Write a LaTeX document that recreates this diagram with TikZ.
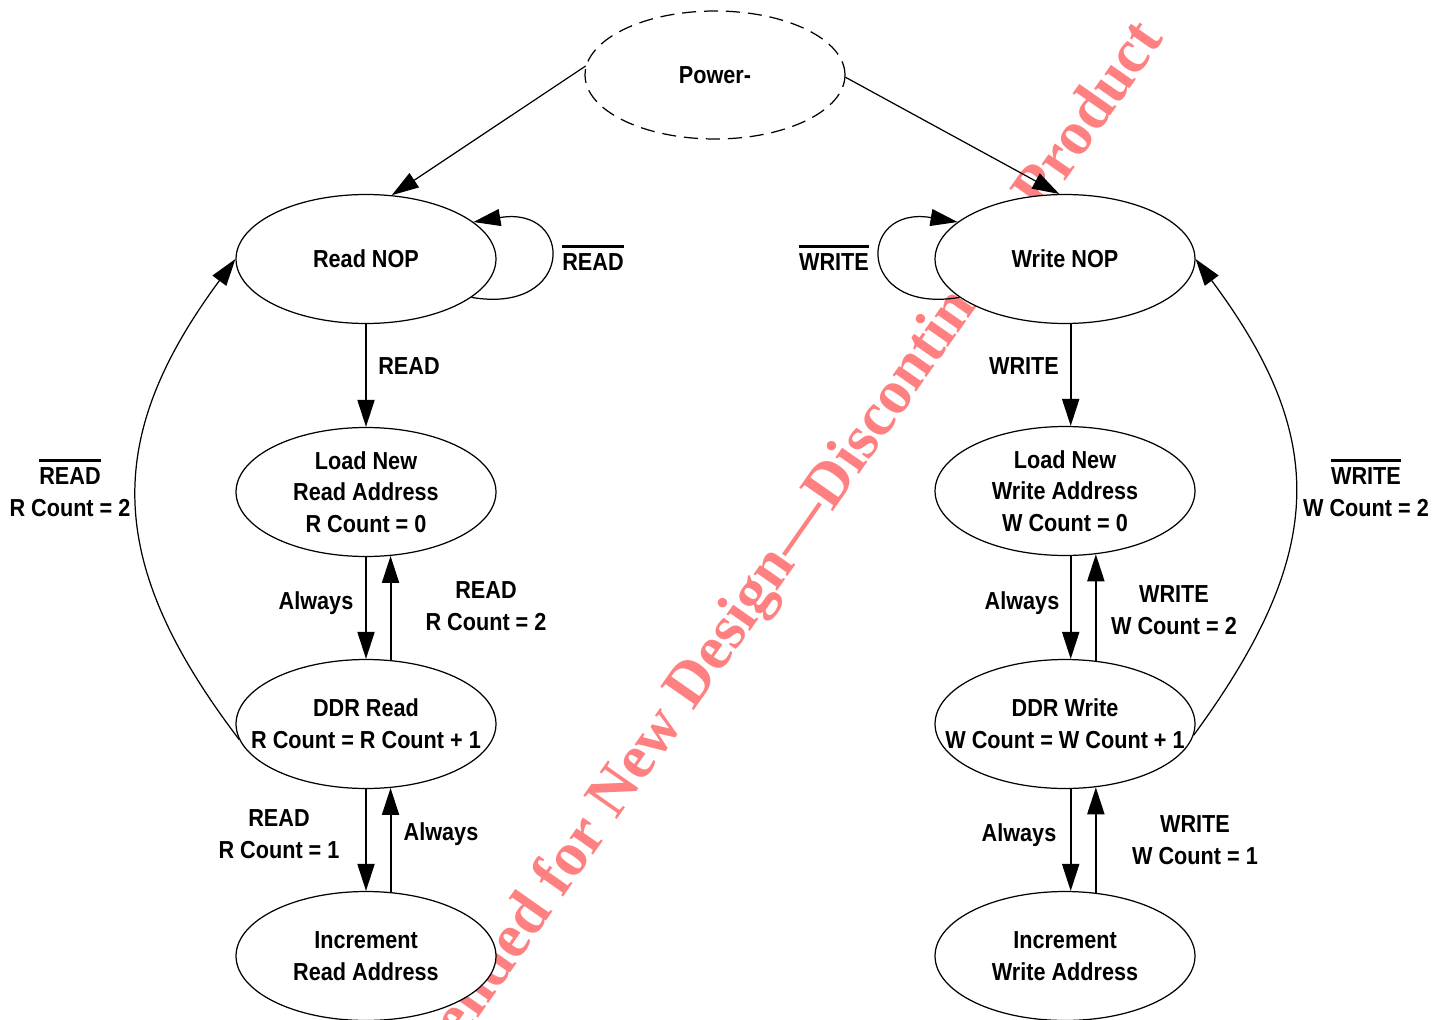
\documentclass[tikz,border=0pt]{standalone}
\usepackage{fontspec}
\setmainfont{Liberation Sans}[FakeStretch=0.88]
\newfontfamily\wmfont{Liberation Serif}
\usetikzlibrary{arrows.meta,shapes.geometric}

\definecolor{wmpink}{RGB}{255,128,128}
\newcommand{\diagfont}{\bfseries\fontsize{14pt}{18pt}\selectfont}
\newsavebox{\sigbox}
\newcommand{\negsig}[1]{\sbox{\sigbox}{#1}\rlap{\raisebox{\dimexpr\ht\sigbox+3.5pt\relax}{\rule{\wd\sigbox}{1.3pt}}}\usebox{\sigbox}}

\begin{document}
\begin{tikzpicture}[x=0.02cm,y=-0.02cm,>={Triangle[length=0.54cm,width=0.34cm]},
fsm/.style={ellipse,draw,fill=white,line width=0.7pt,minimum width=5.2cm,minimum height=2.58cm,inner xsep=-3cm,inner ysep=-1cm,align=center,font=\diagfont},
cond/.style={align=center,inner sep=0pt,font=\diagfont},
trans/.style={->,line width=1.1pt},
arc/.style={->,line width=0.7pt},
wm/.style={font=\wmfont\bfseries\fontsize{35.5pt}{40pt}\selectfont,text=wmpink,rotate=55,anchor=base east,inner sep=0pt}]
\useasboundingbox (0,0) rectangle (1446,1020);
\begin{scope}
\clip (0,0) rectangle (1446,1020);
\node[wm] (wmark) at (1165,38) {Not Recommended for New Design—Discontinued Product};
\end{scope}
% states
\node[fsm,dash pattern=on 8pt off 4.5pt,minimum height=2.56cm] (pwr) at (715,75) {Power-};
\node[fsm] (rnop) at (366,259) {Read NOP};
\node[fsm] (rload) at (366,492) {Load New\\Read Address\\R Count = 0};
\node[fsm] (rddr) at (366,724) {DDR Read\\R Count = R Count + 1};
\node[fsm] (rinc) at (366,956) {Increment\\Read Address};
\node[fsm] (wnop) at (1065,259) {Write NOP};
\node[fsm] (wload) at (1065,491) {Load New\\Write Address\\W Count = 0};
\node[fsm] (wddr) at (1065,724) {DDR Write\\W Count = W Count + 1};
\node[fsm] (winc) at (1065,956) {Increment\\Write Address};
% conditions
\node[cond] (crnop) at (593,258) {\negsig{READ}};
\node[cond] (crread) at (409,366) {READ};
\node[cond] (crload) at (316,603) {Always};
\node[cond] (crback) at (486,606) {READ\\R Count = 2};
\node[cond] (crinc) at (279,834) {READ\\R Count = 1};
\node[cond] (crret) at (441,834) {Always};
\node[cond] (crexit) at (70,488) {\negsig{READ}\\R Count = 2};
\node[cond] (cwnop) at (834,258) {\negsig{WRITE}};
\node[cond] (cwwrite) at (1024,366) {WRITE};
\node[cond] (cwload) at (1022,603) {Always};
\node[cond] (cwback) at (1174,610) {WRITE\\W Count = 2};
\node[cond] (cwinc) at (1019,835) {Always};
\node[cond] (cwret) at (1195,840) {WRITE\\W Count = 1};
\node[cond] (cwexit) at (1366,488) {\negsig{WRITE}\\W Count = 2};
% transitions
\path[arc] (pwr.176) edge (rnop.68);
\path[arc] (pwr.-1) edge (wnop.95);
\draw[arc] (rnop.-20) .. controls (575,315) and (575,205) .. (rnop.19);
\draw[arc] (wnop.200) .. controls (856,315) and (856,205) .. (wnop.161);
\path[trans] (rnop.-90) edge (rload.90);
\path[trans] (rload.-90) edge (rddr.90);
\path[trans] (rddr.69) edge (rload.-69);
\path[trans] (rddr.-90) edge (rinc.90);
\path[trans] (rinc.69) edge (rddr.-69);
\path[trans] (wnop.-85) edge (wload.85);
\path[trans] (wload.-85) edge (wddr.85);
\path[trans] (wddr.64.5) edge (wload.-64.5);
\path[trans] (wddr.-85) edge (winc.85);
\path[trans] (winc.64.5) edge (wddr.-64.5);
\draw[arc] (rddr.187) .. controls (104,562) and (103,438) .. (rnop.180);
\draw[arc] (wddr.-5) .. controls (1327,553) and (1329,438) .. (wnop.0);
\end{tikzpicture}
\end{document}
